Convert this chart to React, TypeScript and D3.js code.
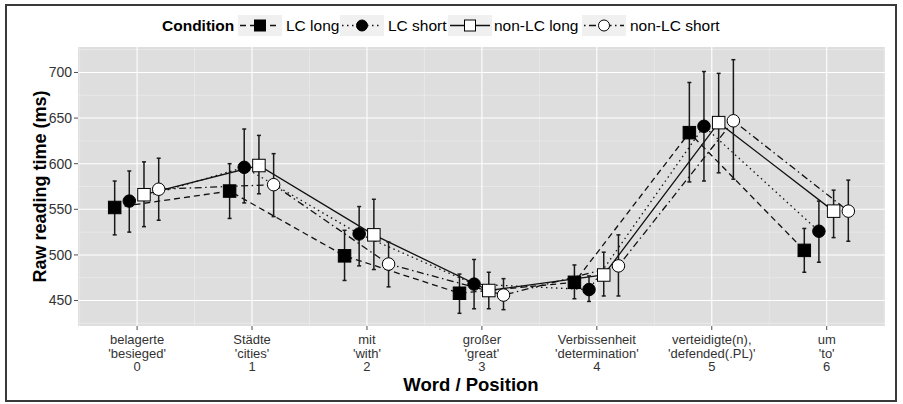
import React, { useEffect } from "react";
import * as d3 from "d3";

// word positions and their labels
const positions = [0, 1, 2, 3, 4, 5, 6];
const words = ["belagerte", "Städte", "mit", "großer", "Verbissenheit", "verteidigte(n),", "um"];
const glosses = ["'besieged'", "'cities'", "'with'", "'great'", "'determination'", "'defended(.PL)'", "'to'"];

const conditions = ["LC long", "LC short", "non-LC long", "non-LC short"];

// mean raw reading times (ms)
const lcLong = [552, 570, 499, 458, 470, 634, 505];
const lcShort = [559, 596, 523, 468, 462, 641, 526];
const nonLcLong = [566, 598, 522, 461, 478, 645, 548];
const nonLcShort = [572, 577, 490, 456, 488, 647, 548];

// error bar ends
const lcLongLo = [522, 540, 472, 436, 452, 580, 481];
const lcLongHi = [581, 600, 527, 479, 489, 689, 529];
const lcShortLo = [525, 557, 488, 441, 449, 581, 492];
const lcShortHi = [592, 638, 553, 495, 477, 701, 559];
const nonLcLongLo = [531, 567, 484, 441, 455, 590, 519];
const nonLcLongHi = [602, 631, 561, 481, 503, 699, 571];
const nonLcShortLo = [538, 542, 465, 440, 455, 583, 515];
const nonLcShortHi = [606, 611, 514, 474, 522, 714, 582];

const yTicks = [450, 500, 550, 600, 650, 700];

const means = [lcLong, lcShort, nonLcLong, nonLcShort];
const lows = [lcLongLo, lcShortLo, nonLcLongLo, nonLcShortLo];
const highs = [lcLongHi, lcShortHi, nonLcLongHi, nonLcShortHi];

// dodge offsets (x units) for each condition
const dodge = [-0.195, -0.068, 0.06, 0.188];

// per-condition look
const dashes = ["6,4", "1.5,3.5", "", "1.5,3.5,7,3.5"];
const shapes = ["square", "circle", "square", "circle"];
const fills = ["#000", "#000", "#fff", "#fff"];

const W = 903;
const H = 404;
const px0 = 78;
const px1 = 885;
const py0 = 47;
const py1 = 326;
const font = "'Liberation Sans', Arial, Helvetica, sans-serif";

function Marker({ shape, fill, x, y, s }: { shape: string; fill: string; x: number; y: number; s: number }) {
  if (shape === "square") {
    return <rect x={x - s / 2} y={y - s / 2} width={s} height={s} fill={fill} stroke="#000" strokeWidth={1} />;
  }
  return <circle cx={x} cy={y} r={s / 2} fill={fill} stroke="#000" strokeWidth={1} />;
}

export default function App() {
  useEffect(() => {
    document.body.style.margin = "0";
  }, []);

  // ggplot-like 5% expansion on both axes
  const xs = positions.flatMap((p) => dodge.map((d) => p + d));
  const xMin = d3.min(xs)!;
  const xMax = d3.max(xs)!;
  const xPad = (xMax - xMin) * 0.05;
  const x = d3.scaleLinear().domain([xMin - xPad, xMax + xPad]).range([px0, px1]);

  const yMin = d3.min(lows.flat())!;
  const yMax = d3.max(highs.flat())!;
  const yPad = (yMax - yMin) * 0.05;
  const y = d3.scaleLinear().domain([yMin - yPad, yMax + yPad]).range([py1, py0]);

  const [xd0, xd1] = x.domain();
  const [yd0, yd1] = y.domain();
  const xMinor = d3.range(-0.5, 7, 1).filter((v) => v >= xd0 && v <= xd1);
  const yMinor = d3.range(425, 750, 50).filter((v) => v >= yd0 && v <= yd1);

  const line = d3
    .line<[number, number]>()
    .x((d) => x(d[0]))
    .y((d) => y(d[1]));

  // legend layout
  const keyX = [238, 340, 448, 582];
  const labelX = [286, 388, 494, 630];
  const keyW = 44;
  const keyY = 15;
  const keyH = 21;

  return (
    <svg width={W} height={H} style={{ position: "absolute", left: 0, top: 0, background: "#fff" }} fontFamily={font}>
      <rect x={6} y={5} width={890} height={396} fill="#fff" stroke="#3a3a3a" strokeWidth={2} />

      {/* panel */}
      <rect x={px0} y={py0} width={px1 - px0} height={py1 - py0} fill="#dedede" />
      {yMinor.map((v) => (
        <line key={"ym" + v} x1={px0} x2={px1} y1={y(v)} y2={y(v)} stroke="#efefef" strokeWidth={0.6} />
      ))}
      {xMinor.map((v) => (
        <line key={"xm" + v} x1={x(v)} x2={x(v)} y1={py0} y2={py1} stroke="#efefef" strokeWidth={0.6} />
      ))}
      {yTicks.map((v) => (
        <line key={"yg" + v} x1={px0} x2={px1} y1={y(v)} y2={y(v)} stroke="#fff" strokeWidth={1.1} />
      ))}
      {positions.map((p) => (
        <line key={"xg" + p} x1={x(p)} x2={x(p)} y1={py0} y2={py1} stroke="#fff" strokeWidth={1.1} />
      ))}

      {/* lines */}
      {means.map((m, i) => (
        <path
          key={"l" + i}
          d={line(positions.map((p, j) => [p + dodge[i], m[j]]))!}
          fill="none"
          stroke="#111"
          strokeWidth={1.3}
          strokeDasharray={dashes[i] || undefined}
        />
      ))}

      {/* error bars */}
      {means.map((m, i) =>
        positions.map((p, j) => {
          const cx = x(p + dodge[i]);
          return (
            <g key={"e" + i + "-" + j} stroke="#1a1a1a" strokeWidth={1.5}>
              <line x1={cx} x2={cx} y1={y(lows[i][j])} y2={y(highs[i][j])} />
              <line x1={cx - 2} x2={cx + 2} y1={y(lows[i][j])} y2={y(lows[i][j])} />
              <line x1={cx - 2} x2={cx + 2} y1={y(highs[i][j])} y2={y(highs[i][j])} />
            </g>
          );
        })
      )}

      {/* points */}
      {means.map((m, i) =>
        positions.map((p, j) => (
          <Marker key={"p" + i + "-" + j} shape={shapes[i]} fill={fills[i]} x={x(p + dodge[i])} y={y(m[j])} s={12.5} />
        ))
      )}

      {/* y axis */}
      {yTicks.map((v) => (
        <g key={"yt" + v}>
          <line x1={px0 - 4} x2={px0} y1={y(v)} y2={y(v)} stroke="#4d4d4d" strokeWidth={1} />
          <text x={px0 - 6} y={y(v)} dy="0.35em" textAnchor="end" fontSize={14} fill="#333">
            {v}
          </text>
        </g>
      ))}
      <text
        transform={`translate(46, ${(py0 + py1) / 2}) rotate(-90)`}
        textAnchor="middle"
        fontSize={18}
        fontWeight="bold"
        fill="#000"
      >
        Raw reading time (ms)
      </text>

      {/* x axis */}
      {positions.map((p, j) => (
        <g key={"xt" + p}>
          <line x1={x(p)} x2={x(p)} y1={py1} y2={py1 + 4} stroke="#4d4d4d" strokeWidth={1} />
          <text x={x(p)} y={py1 + 18} textAnchor="middle" fontSize={13} fill="#333">
            <tspan x={x(p)}>{words[j]}</tspan>
            <tspan x={x(p)} dy={13.5}>{glosses[j]}</tspan>
            <tspan x={x(p)} dy={13.5}>{p}</tspan>
          </text>
        </g>
      ))}
      <text x={471} y={391} textAnchor="middle" fontSize={18.5} fontWeight="bold" fill="#000">
        Word / Position
      </text>

      {/* legend */}
      <text x={162} y={31} fontSize={15.5} fontWeight="bold" fill="#000">
        Condition
      </text>
      {conditions.map((c, i) => (
        <g key={"lg" + i}>
          <rect x={keyX[i]} y={keyY} width={keyW} height={keyH} fill="#f0f0f0" />
          <line
            x1={keyX[i] + 2}
            x2={keyX[i] + keyW - 2}
            y1={keyY + keyH / 2}
            y2={keyY + keyH / 2}
            stroke="#111"
            strokeWidth={1.3}
            strokeDasharray={dashes[i] || undefined}
          />
          <Marker shape={shapes[i]} fill={fills[i]} x={keyX[i] + keyW / 2} y={keyY + keyH / 2} s={11} />
          <text x={labelX[i]} y={31} fontSize={15.5} fill="#000">
            {c}
          </text>
        </g>
      ))}
    </svg>
  );
}
